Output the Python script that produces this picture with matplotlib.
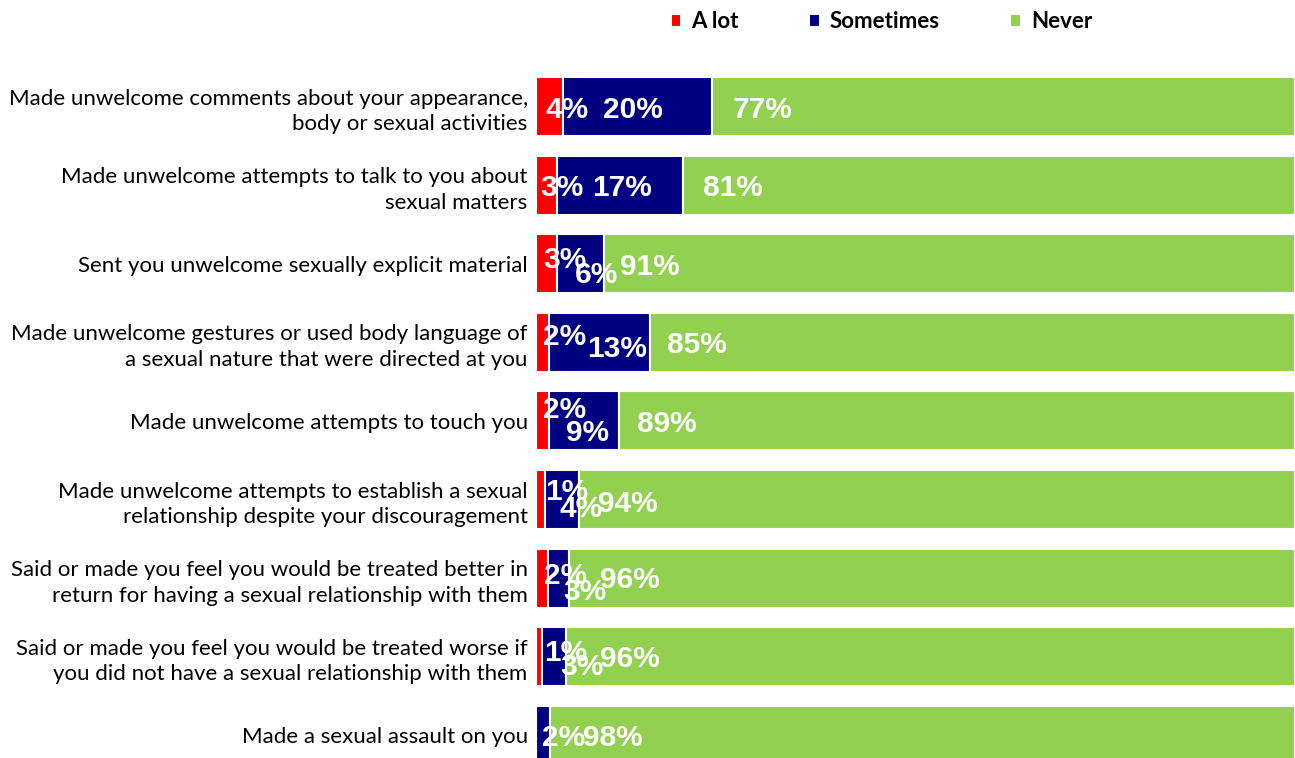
import numpy as np
import matplotlib.pyplot as plt
from matplotlib.patches import Patch

categories = [
    "Made unwelcome comments about your appearance,\nbody or sexual activities",
    "Made unwelcome attempts to talk to you about\nsexual matters",
    "Sent you unwelcome sexually explicit material",
    "Made unwelcome gestures or used body language of\na sexual nature that were directed at you",
    "Made unwelcome attempts to touch you",
    "Made unwelcome attempts to establish a sexual\nrelationship despite your discouragement",
    "Said or made you feel you would be treated better in\nreturn for having a sexual relationship with them",
    "Said or made you feel you would be treated worse if\nyou did not have a sexual relationship with them",
    "Made a sexual assault on you",
]
a_lot = [3.6, 2.8, 2.8, 1.7, 1.7, 1.2, 1.6, 0.8, 0.0]
sometimes = [19.6, 16.6, 6.1, 13.3, 9.2, 4.4, 2.8, 3.2, 1.8]
never = [76.8, 80.6, 91.1, 85.0, 89.1, 94.4, 95.6, 96.0, 98.2]

series_names = ["A lot", "Sometimes", "Never"]
colors = ["#FF0000", "#000080", "#92D050"]

# label nudges (pixels right / down from the start of each segment)
label_dx = [
    [9, 40, 21], [4, 35, 20], [7, 18, 16], [7, 38, 17], [7, 17, 18],
    [9, 14, 19], [8, 15, 31], [8, 18, 34], [0, 6, 33],
]
label_dy = [
    [1, 1, 1], [1, 1, 1], [-6, 9, 1], [-7, 5, 1], [-13, 10, 1],
    [-10, 7, 2], [-4, 12, 0], [-6, 8, 0], [0, 1, 1],
]

fig = plt.figure(figsize=(12.95, 7.58), dpi=100)
ax = fig.add_axes([536 / 1295, 1 - 774.6 / 758, 1 - 536 / 1295, 707.4 / 758])

y = np.arange(len(categories))
data = [a_lot, sometimes, never]
left = np.zeros(len(categories))
handles = []
for k, (vals, name, col) in enumerate(zip(data, series_names, colors)):
    vals = np.array(vals)
    ax.barh(y, vals, left=left, height=0.75, color=col,
            edgecolor="white", linewidth=1.5)
    for i, v in enumerate(vals):
        if v <= 0:
            continue
        ax.annotate(f"{v:.0f}%", xy=(left[i], y[i]),
                    xytext=(label_dx[i][k], -(label_dy[i][k] + 2)),
                    textcoords="offset pixels", ha="left", va="center",
                    color="white", fontsize=21.5, fontweight="bold",
                    family="Liberation Sans", annotation_clip=False)
    left += vals
    handles.append(Patch(facecolor=col, edgecolor="none"))

ax.set_xlim(0, 100)
ax.set_ylim(len(categories) - 0.5, -0.5)
ax.set_yticks(y)
ax.set_yticklabels(categories, fontsize=16, family="Lato",
                   linespacing=1.35)
ax.tick_params(axis="y", length=0, pad=6)
ax.set_xticks([])
for s in ax.spines.values():
    s.set_visible(False)

fig.legend(handles, series_names, loc="center", ncol=3,
           bbox_to_anchor=(882 / 1295, 1 - 22 / 758), frameon=False,
           handlelength=0.4, handleheight=0.4, handletextpad=0.5,
           columnspacing=3.2,
           prop={"family": "Lato", "weight": "bold", "size": 16})

fig.savefig("out.png", dpi=100)
